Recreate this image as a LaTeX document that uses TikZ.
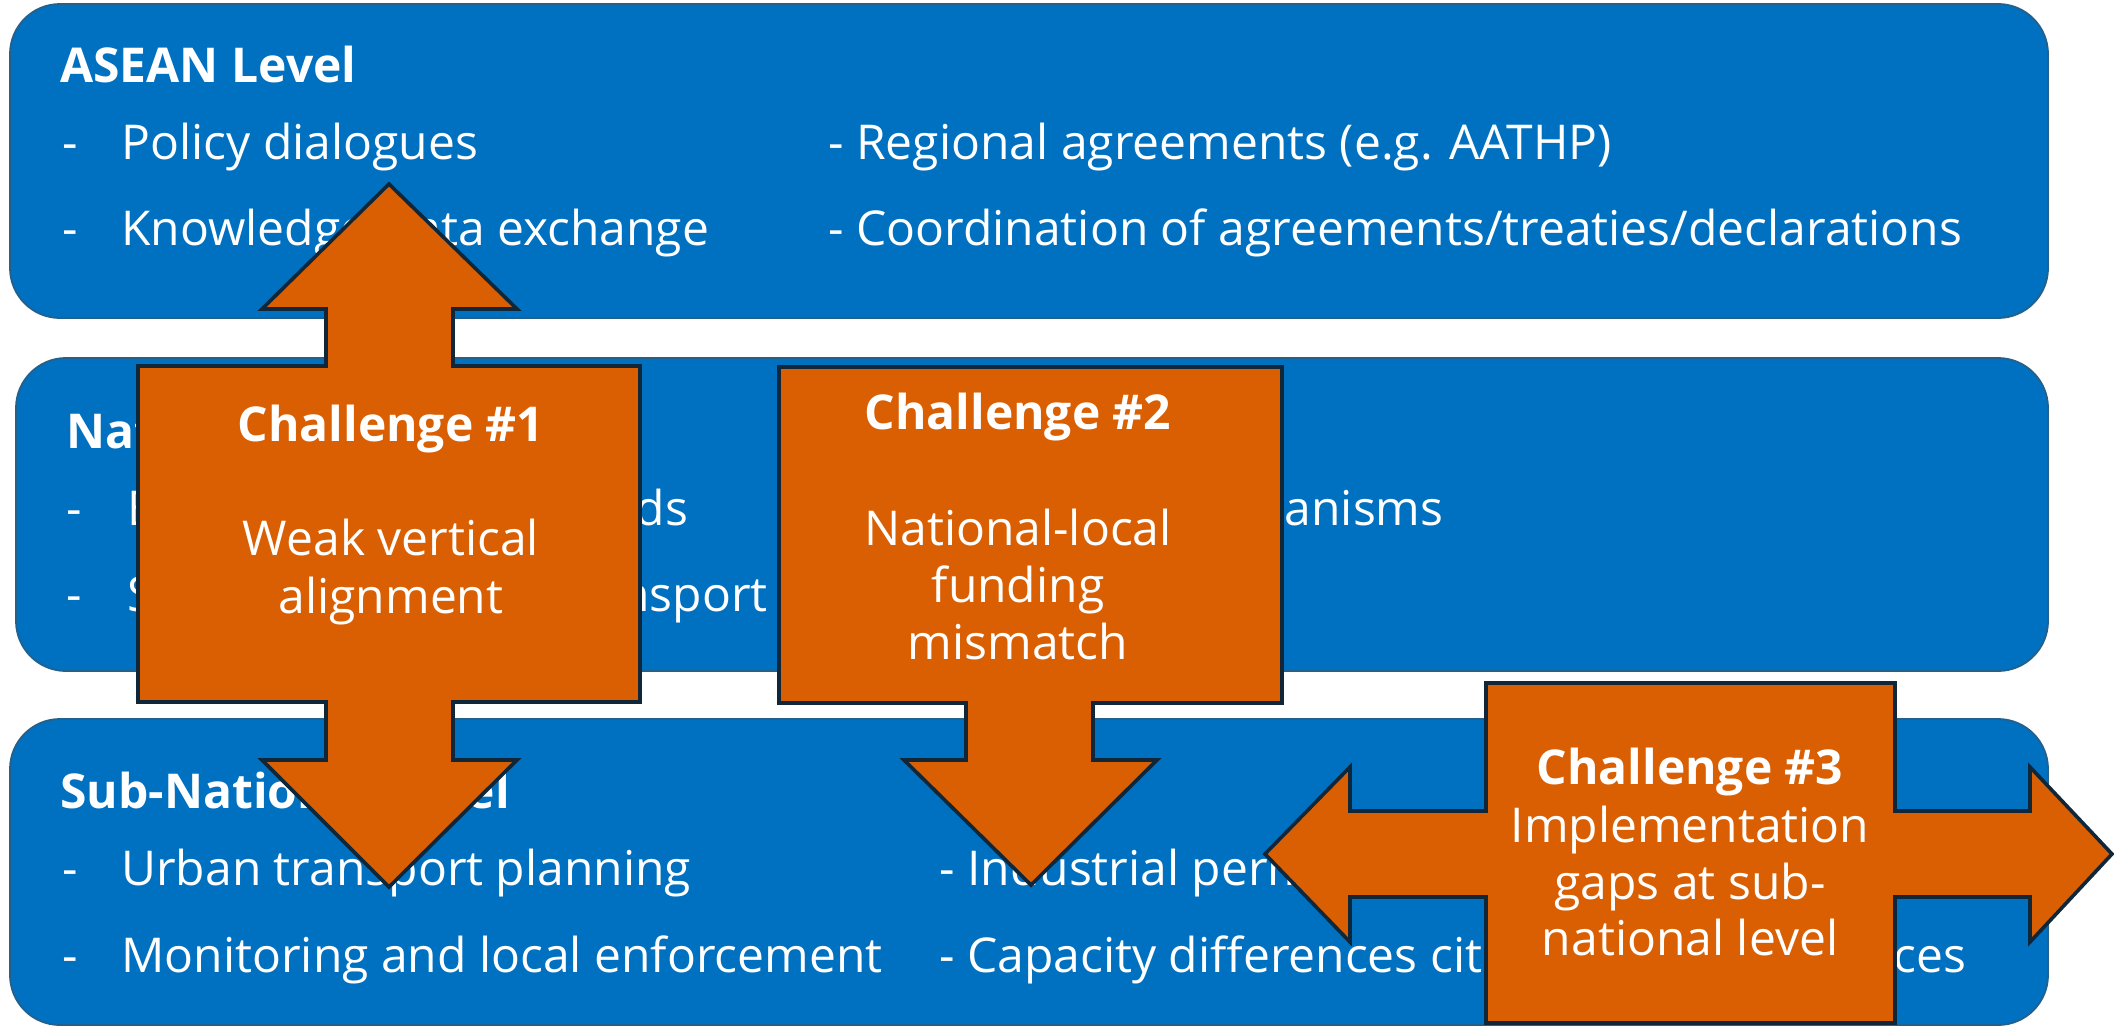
\documentclass[tikz,border=0pt]{standalone}
\usepackage{fontspec}
\setmainfont{Open Sans}
\definecolor{bandblue}{HTML}{0070C0}
\definecolor{bandline}{HTML}{23618C}
\definecolor{chorange}{HTML}{D95F02}
\definecolor{choline}{HTML}{10273A}
\tikzset{
  band/.style={fill=bandblue, draw=bandline, line width=0.9pt, rounded corners=25pt},
  chal/.style={fill=chorange, draw=choline, line width=1.8pt, line join=miter},
  ttl/.style={anchor=base west, inner sep=0pt, text=white, font=\fontsize{24}{29}\selectfont\bfseries},
  itm/.style={anchor=base west, inner sep=0pt, text=white, font=\fontsize{24}{29}\selectfont},
  ctl/.style={anchor=base, inner sep=0pt, text=white, font=\fontsize{24}{29}\selectfont\bfseries},
  ctx/.style={anchor=base, inner sep=0pt, text=white, font=\fontsize{24}{29}\selectfont},
}
\begin{document}
\begin{tikzpicture}[x=0.5pt,y=-0.5pt]
\useasboundingbox (0,0) rectangle (2114,1028);

% ---------- bands ----------
\draw[band] (10,4) rectangle (2048,318);
\draw[band] (16,358) rectangle (2048,671);
\draw[band] (10,719) rectangle (2048,1025);

% ASEAN level
\node[ttl] (aT) at (60,82) {ASEAN Level};
\node[itm] (a1d) at (62,159) {-};
\node[itm] (a1) at (121,159) {Policy dialogues};
\node[itm] (a2d) at (62,245) {-};
\node[itm] (a2) at (121,245) {Knowledge/data exchange};
\node[itm] (a3) at (828,159) {- Regional agreements (e.g. AATHP)};
\node[itm] (a4) at (828,245) {- Coordination of agreements/treaties/declarations};

% National level
\node[ttl] (nT) at (66,448) {National Level};
\node[itm] (n1d) at (66,525) {-};
\node[itm] (n1) at (127,525) {Emissions/fuel standards};
\node[itm] (n2d) at (66,611) {-};
\node[itm] (n2) at (127,611) {Sustainable freight transport};
\node[itm] (n3) at (939,525) {- Funding mechanisms};

% Sub-national level
\node[ttl] (sT) at (60,808) {Sub-National Level};
\node[itm] (s1d) at (62,885) {-};
\node[itm] (s1) at (121,885) {Urban transport planning};
\node[itm] (s2d) at (62,972) {-};
\node[itm] (s2) at (121,972) {Monitoring and local enforcement};
\node[itm] (s3) at (939,885) {- Industrial permits};
\node[itm] (s4) at (939,972) {- Capacity differences cities vs. rural provinces};

% ---------- Challenge 1: vertical double arrow ----------
\draw[chal] (138,366) -- (326,366) -- (326,309) -- (262,309) -- (389,184)
  -- (517,309) -- (453,309) -- (453,366) -- (640,366) -- (640,702)
  -- (453,702) -- (453,760) -- (517,760) -- (389,887) -- (262,760)
  -- (326,760) -- (326,702) -- (138,702) -- cycle;
\node[ctl] (c1t) at (391,441) {Challenge \#1};
\node[ctx] (c1a) at (391,555) {Weak vertical};
\node[ctx] (c1b) at (391,613) {alignment};

% ---------- Challenge 2: down arrow ----------
\draw[chal] (779,367) -- (1282,367) -- (1282,703) -- (1093,703) -- (1093,760)
  -- (1157,760) -- (1031,885) -- (904,760) -- (966,760) -- (966,703)
  -- (779,703) -- cycle;
\node[ctl] (c2t) at (1018,429) {Challenge \#2};
\node[ctx] (c2a) at (1018,545) {National-local};
\node[ctx] (c2b) at (1018,602) {funding};
\node[ctx] (c2c) at (1018,659) {mismatch};

% ---------- Challenge 3: horizontal double arrow ----------
\draw[chal] (1486,683) -- (1895,683) -- (1895,811) -- (2030,811) -- (2030,767)
  -- (2112,854) -- (2030,942) -- (2030,897) -- (1895,897) -- (1895,1023)
  -- (1486,1023) -- (1486,897) -- (1350,897) -- (1350,942) -- (1265,854)
  -- (1350,767) -- (1350,811) -- (1486,811) -- cycle;
\node[ctl] (c3t) at (1690,784) {Challenge \#3};
\node[ctx] (c3a) at (1690,842) {Implementation};
\node[ctx] (c3b) at (1690,899) {gaps at sub-};
\node[ctx] (c3c) at (1690,955) {national level};
\end{tikzpicture}
\end{document}
